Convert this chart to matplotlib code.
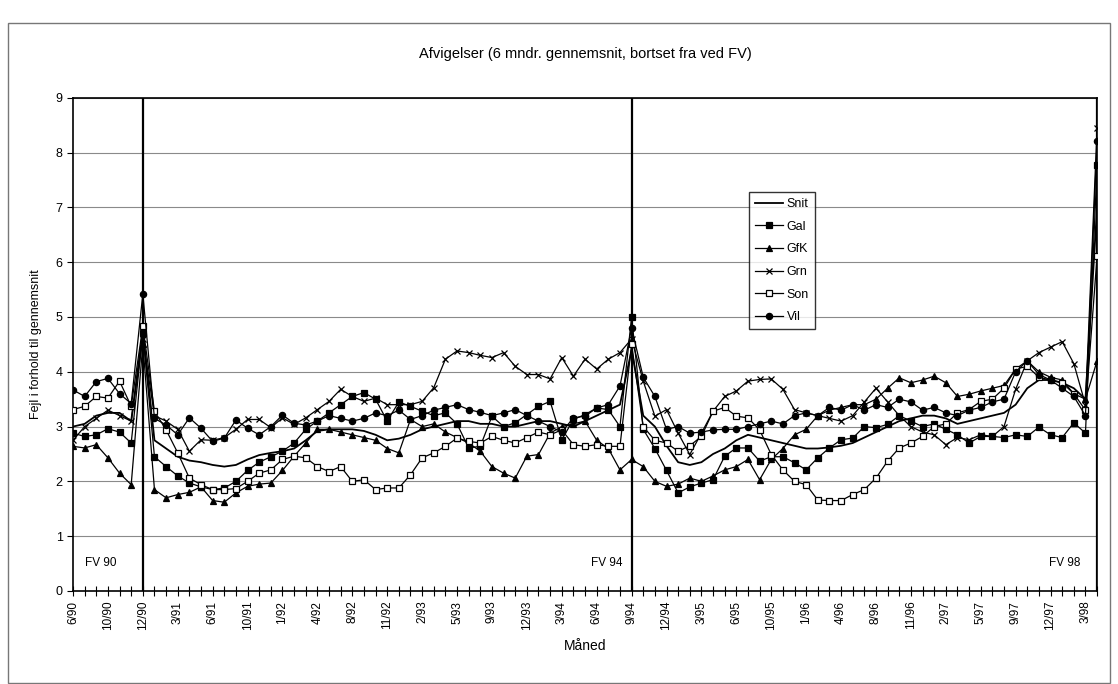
import numpy as np
import matplotlib.pyplot as plt
from matplotlib.patches import Rectangle

plt.rcParams['font.family'] = ['Liberation Sans', 'DejaVu Sans']

# category labels (every third month shown on the axis)
tick_labels = ["6/90", "10/90", "12/90", "3/91", "6/91", "10/91", "1/92", "4/92",
               "8/92", "11/92", "2/93", "5/93", "9/93", "12/93", "3/94", "6/94",
               "9/94", "12/94", "3/95", "6/95", "10/95", "1/96", "4/96", "8/96",
               "11/96", "2/97", "5/97", "9/97", "12/97", "3/98"]
n_points = 89
fv_index = [6, 48, 88]
fv_names = ["FV 90", "FV 94", "FV 98"]

snit = [3.0, 3.05, 3.2, 3.25, 3.25, 3.1,
        4.75,
        2.75, 2.6, 2.45, 2.38, 2.35, 2.3, 2.27, 2.3, 2.4, 2.48, 2.52,
        2.55, 2.6, 2.75, 2.92, 2.95, 2.95, 2.95, 2.92, 2.85, 2.75, 2.78,
        2.85, 2.95, 3.0, 3.05, 3.1, 3.1, 3.05, 3.05, 3.0, 3.0, 3.05,
        3.1, 3.1, 3.05, 3.0, 3.1, 3.2, 3.3, 3.4,
        4.4,
        3.2, 3.0, 2.65, 2.35, 2.3, 2.35, 2.5, 2.6, 2.75, 2.85,
        2.8, 2.75, 2.7, 2.65, 2.6, 2.6, 2.62, 2.65, 2.7, 2.8, 2.9,
        3.0, 3.1, 3.15, 3.2, 3.2, 3.15, 3.05, 3.1, 3.15, 3.2, 3.25,
        3.4, 3.7, 3.85, 3.85, 3.8, 3.7, 3.5,
        7.0]

gal = [2.88, 2.82, 2.85, 2.96, 2.9, 2.7,
       4.7,
       2.45, 2.27, 2.1, 1.97, 1.9, 1.85, 1.88, 2.0, 2.2, 2.35, 2.45,
       2.55, 2.7, 2.95, 3.1, 3.25, 3.4, 3.55, 3.62, 3.5, 3.1, 3.45,
       3.37, 3.28, 3.2, 3.25, 3.05, 2.61, 2.64, 3.19, 3.0, 3.07, 3.22,
       3.37, 3.46, 2.76, 3.13, 3.22, 3.34, 3.31, 3.0,
       5.0,
       2.95, 2.6, 2.2, 1.79, 1.9, 1.97, 2.03, 2.46, 2.61, 2.61,
       2.37, 2.45, 2.45, 2.34, 2.21, 2.43, 2.61, 2.76, 2.79, 3.0, 2.98,
       3.04, 3.2, 3.1, 3.0, 3.05, 2.95, 2.85, 2.7, 2.82, 2.82, 2.8,
       2.85, 2.82, 2.99, 2.85, 2.8, 3.07, 2.88,
       7.77]

gfk = [2.64, 2.61, 2.67, 2.43, 2.15, 1.94,
       4.5,
       1.85, 1.7, 1.76, 1.8, 1.9, 1.65, 1.62, 1.79, 1.91, 1.95, 1.97,
       2.2, 2.46, 2.7, 2.95, 2.95, 2.9, 2.85, 2.8, 2.75, 2.6, 2.52,
       3.13, 3.0, 3.05, 2.9, 2.8, 2.7, 2.55, 2.27, 2.15, 2.06, 2.46,
       2.49, 2.88, 3.0, 3.05, 3.1, 2.75, 2.6, 2.21,
       2.4,
       2.27, 2.0, 1.91, 1.95, 2.06, 2.0, 2.1, 2.21, 2.27, 2.4,
       2.03, 2.4, 2.6, 2.85, 2.95, 3.2, 3.3, 3.35, 3.4, 3.4, 3.5,
       3.7, 3.89, 3.8, 3.85, 3.92, 3.8, 3.55, 3.59, 3.65, 3.7, 3.75,
       4.05, 4.2, 4.0, 3.9, 3.85, 3.6, 3.5,
       4.2]

grn = [2.75, 3.0, 3.15, 3.3, 3.2, 3.1,
       4.6,
       3.2, 3.1, 2.95, 2.55, 2.76, 2.75, 2.8, 2.95, 3.13, 3.13, 2.98,
       3.16, 3.04, 3.16, 3.31, 3.46, 3.68, 3.55, 3.46, 3.52, 3.4, 3.4,
       3.4, 3.46, 3.71, 4.23, 4.38, 4.35, 4.3, 4.26, 4.35, 4.1, 3.95,
       3.95, 3.87, 4.26, 3.92, 4.23, 4.05, 4.23, 4.35,
       4.6,
       3.83, 3.19, 3.31, 2.88, 2.49, 2.88, 3.28, 3.55, 3.65, 3.83,
       3.86, 3.87, 3.68, 3.31, 3.25, 3.2, 3.15, 3.1, 3.2, 3.45, 3.7,
       3.45, 3.2, 3.0, 2.9, 2.85, 2.67, 2.8, 2.76, 2.85, 2.82, 3.0,
       3.68, 4.2, 4.35, 4.45, 4.55, 4.15, 3.4,
       8.45]

son = [3.31, 3.37, 3.55, 3.52, 3.83, 3.37,
       4.83,
       3.28, 2.94, 2.52, 2.06, 1.94, 1.85, 1.85, 1.87, 2.0, 2.15, 2.21,
       2.4, 2.46, 2.43, 2.27, 2.18, 2.27, 2.0, 2.03, 1.85, 1.88, 1.88,
       2.12, 2.43, 2.52, 2.64, 2.79, 2.73, 2.7, 2.82, 2.75, 2.7, 2.8,
       2.9, 2.85, 2.94, 2.67, 2.64, 2.67, 2.64, 2.64,
       4.5,
       3.0, 2.75, 2.7, 2.55, 2.65, 2.82, 3.28, 3.35, 3.19, 3.16,
       2.94, 2.49, 2.21, 2.0, 1.94, 1.66, 1.65, 1.65, 1.76, 1.85, 2.06,
       2.37, 2.61, 2.7, 2.82, 3.0, 3.05, 3.25, 3.31, 3.46, 3.5, 3.7,
       4.05, 4.1, 3.9, 3.85, 3.8, 3.6, 3.3,
       6.11]

vil = [3.67, 3.55, 3.82, 3.88, 3.6, 3.42,
       5.42,
       3.15, 3.03, 2.85, 3.16, 2.97, 2.73, 2.79, 3.12, 2.97, 2.85, 3.0,
       3.21, 3.06, 3.03, 3.1, 3.2, 3.15, 3.1, 3.15, 3.25, 3.2, 3.3,
       3.13, 3.2, 3.3, 3.35, 3.4, 3.31, 3.26, 3.2, 3.25, 3.31, 3.2,
       3.1, 3.0, 2.9, 3.16, 3.19, 3.34, 3.4, 3.74,
       4.8,
       3.9, 3.55, 2.95, 3.0, 2.88, 2.9, 2.94, 2.95, 2.95, 3.0,
       3.05, 3.1, 3.05, 3.2, 3.25, 3.2, 3.35, 3.3, 3.4, 3.3, 3.4,
       3.35, 3.5, 3.45, 3.3, 3.35, 3.25, 3.2, 3.3, 3.35, 3.45, 3.5,
       4.0, 4.2, 3.95, 3.85, 3.7, 3.55, 3.2,
       8.22]

series = [("Snit", snit, None, "black"),
          ("Gal", gal, "s", "black"),
          ("GfK", gfk, "^", "black"),
          ("Grn", grn, "x", "black"),
          ("Son", son, "s", "white"),
          ("Vil", vil, "o", "black")]

fig = plt.figure(figsize=(11.18, 6.84), dpi=100)
ax = fig.add_axes([0.0653, 0.136, 0.916, 0.721])

x = np.arange(n_points)

# grid
for yv in range(1, 10):
    ax.axhline(yv, color="#8a8a8a", lw=0.8, zorder=0)

# election lines
for xi in fv_index:
    ax.plot([xi, xi], [0, 9], color="black", lw=1.6, zorder=1)

for name, vals, mk, face in series:
    assert len(vals) == n_points, name
    if mk is None:
        ax.plot(x, vals, color="black", lw=1.3, label=name, zorder=3)
    else:
        ax.plot(x, vals, color="black", lw=0.9, marker=mk, markersize=4.5,
                markerfacecolor=face, markeredgecolor="black",
                markeredgewidth=0.9, label=name, zorder=3)

ax.set_xlim(0, n_points - 1)
ax.set_ylim(0, 9)
ax.set_yticks(range(0, 10))
ax.tick_params(axis="y", labelsize=9, length=4, direction="out")

all_labels = [""] * n_points
for k, lab in enumerate(tick_labels):
    all_labels[3 * k] = lab
ax.set_xticks(x)
ax.set_xticklabels(all_labels, rotation=90, fontsize=8.5)
ax.tick_params(axis="x", length=7, direction="inout", width=0.8)

for sp in ax.spines.values():
    sp.set_linewidth(1.2)

# FV labels
ax.text(1.0, 0.45, fv_names[0], fontsize=8.5)
ax.text(47.2, 0.45, fv_names[1], fontsize=8.5, ha="right")
ax.text(86.6, 0.45, fv_names[2], fontsize=8.5, ha="right")

ax.text(0.5, 1.0 + 44 / 493, "Afvigelser (6 mndr. gennemsnit, bortset fra ved FV)",
        transform=ax.transAxes, ha="center", va="center", fontsize=10.5)
ax.set_ylabel("Fejl i forhold til gennemsnit", fontsize=9, labelpad=10)
ax.set_xlabel("Måned", fontsize=10, labelpad=6)

leg = ax.legend(loc="upper left", bbox_to_anchor=(0.654, 0.822),
                fontsize=9, frameon=True, fancybox=False,
                edgecolor="black", handlelength=2.2, borderpad=0.5,
                labelspacing=0.85, handletextpad=0.3)
leg.get_frame().set_linewidth(1.0)

# outer frame of the chart object
fig.patches.append(Rectangle((0.007, 0.002), 0.986, 0.965, transform=fig.transFigure,
                             fill=False, edgecolor="#777777", lw=1.0))

fig.savefig("out.png", dpi=100)
